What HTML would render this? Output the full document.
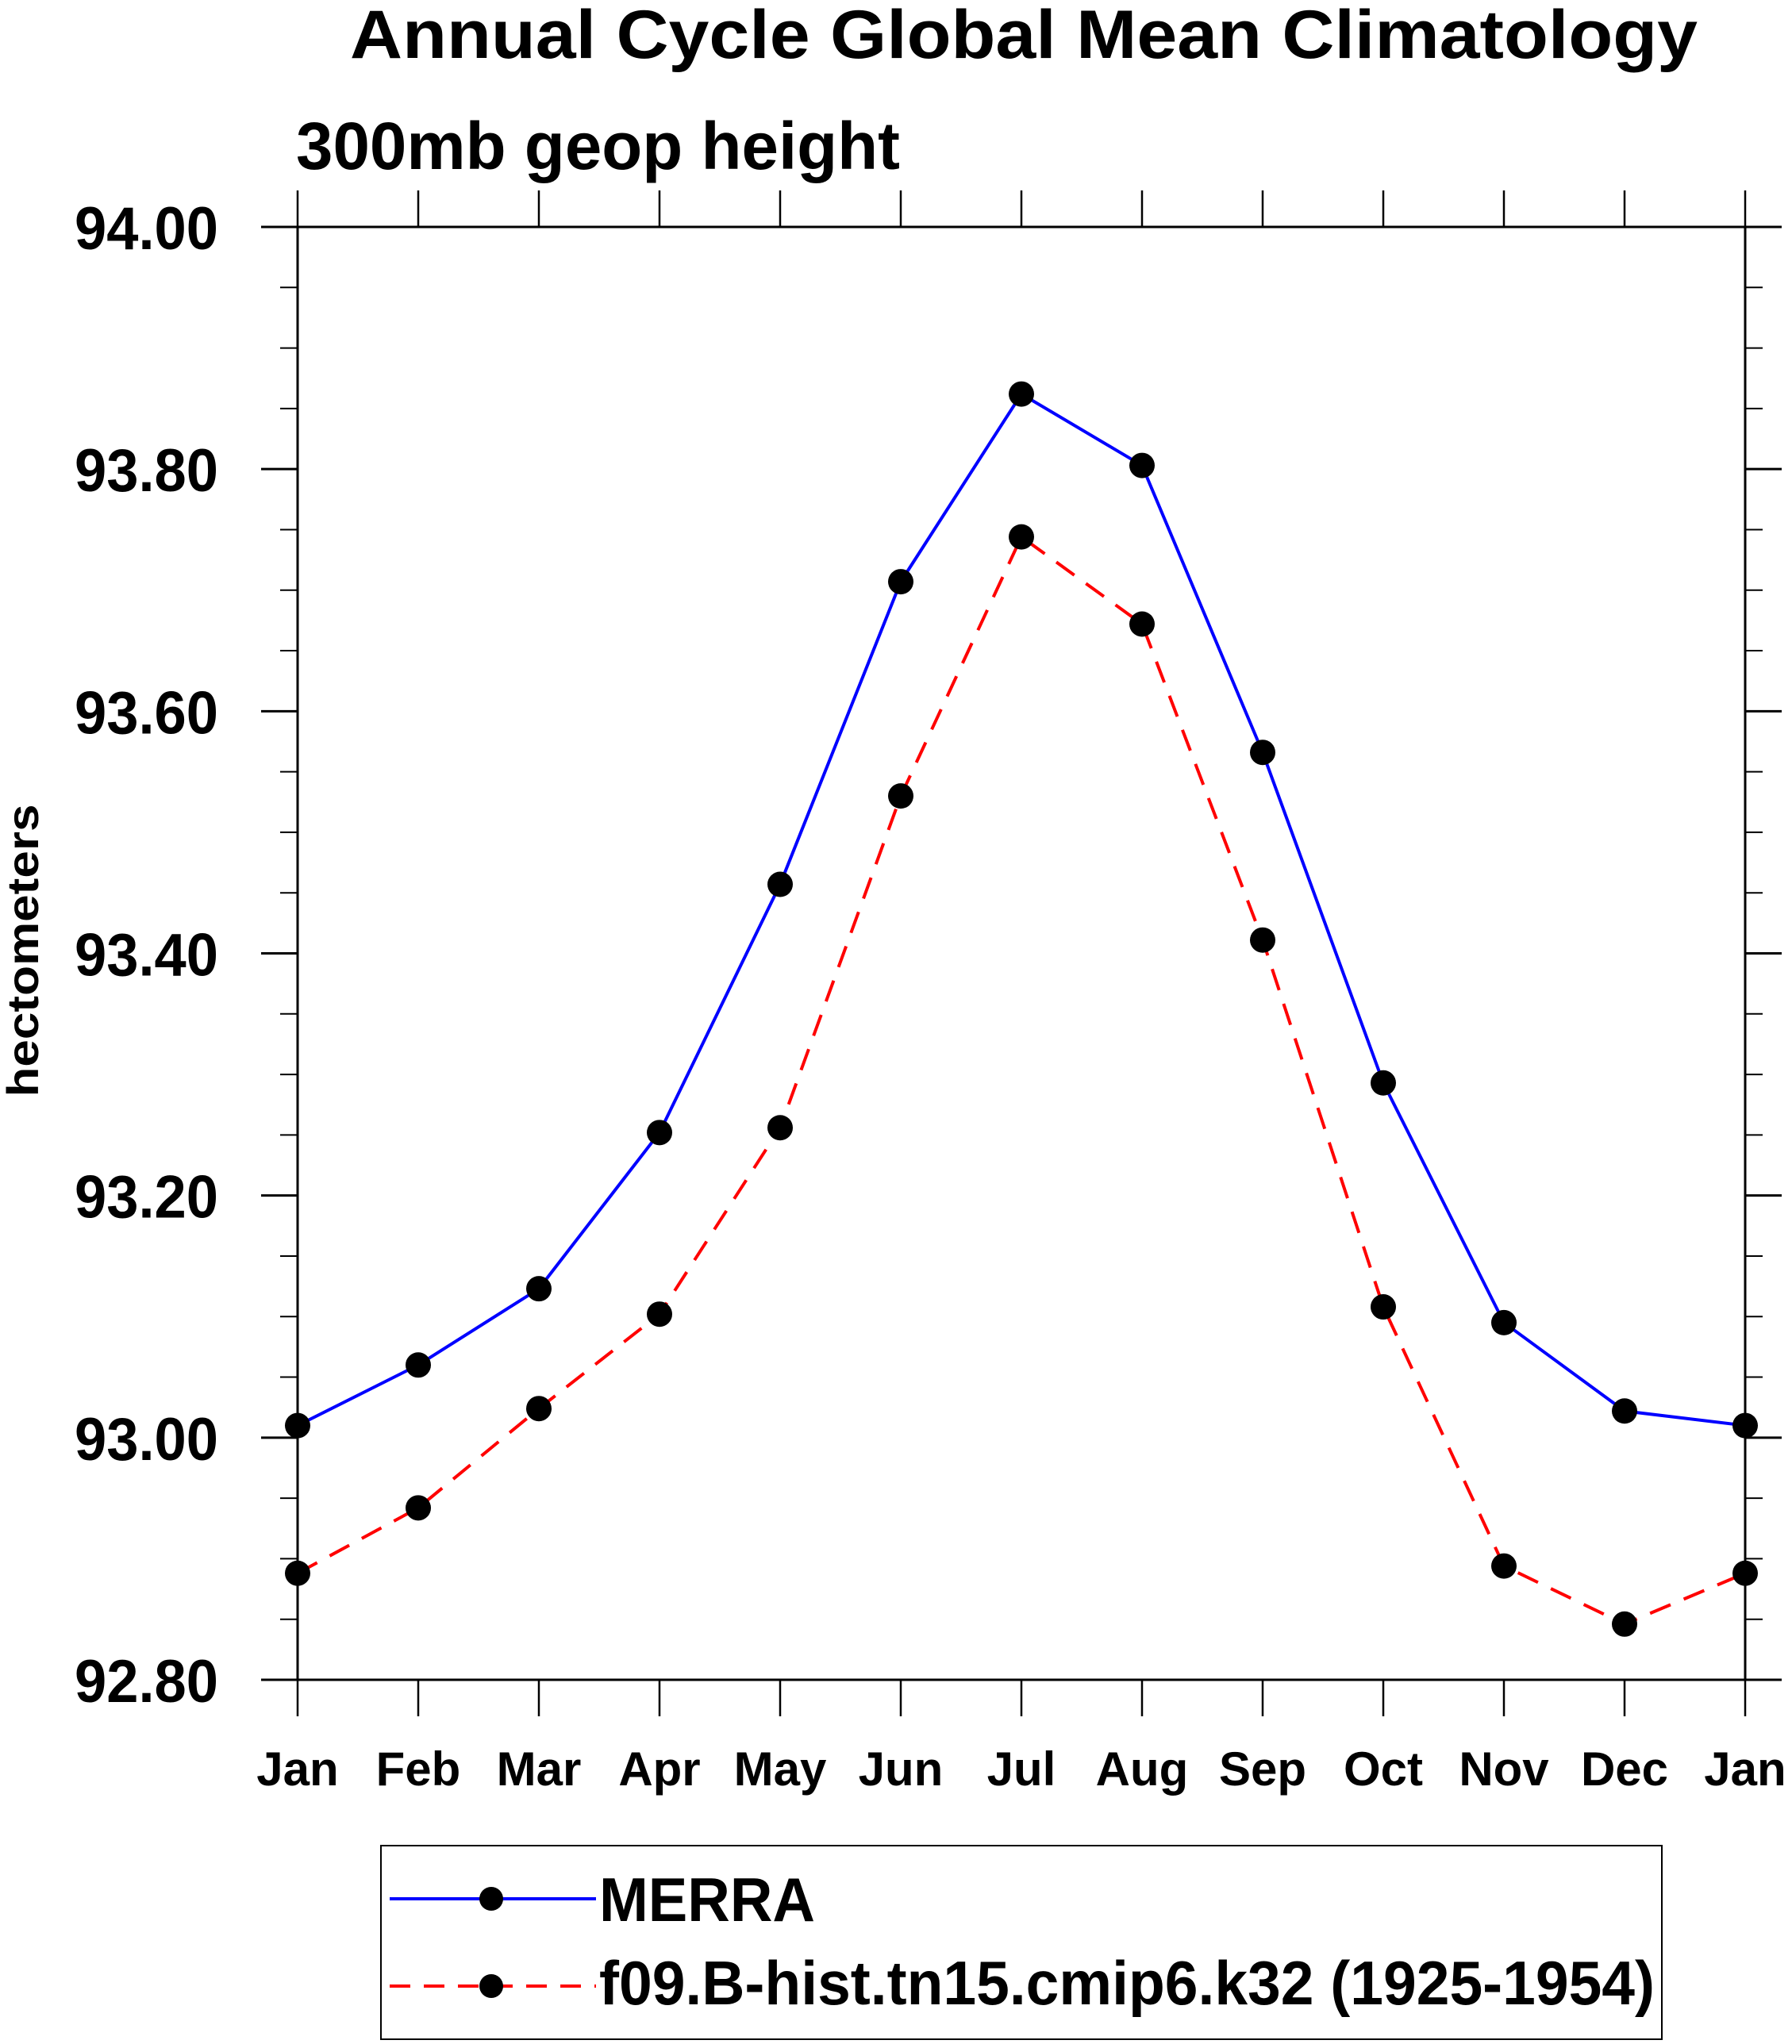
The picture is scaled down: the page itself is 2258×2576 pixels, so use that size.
<!DOCTYPE html>
<html><head><meta charset="utf-8"><style>html,body{margin:0;padding:0;background:#fff}svg{display:block}</style></head>
<body>
<svg id="chart" width="2258" height="2576" viewBox="0 0 2258 2576" xmlns="http://www.w3.org/2000/svg" font-family="'Liberation Sans', Arial, sans-serif" font-weight="bold">
<text x="1290" y="73" font-size="86" text-anchor="middle" textLength="1698" lengthAdjust="spacingAndGlyphs">Annual Cycle Global Mean Climatology</text>
<text x="373" y="213" font-size="84" textLength="761" lengthAdjust="spacingAndGlyphs">300mb geop height</text>
<text transform="translate(48,1198) rotate(-90)" font-size="56" text-anchor="middle" textLength="369" lengthAdjust="spacingAndGlyphs">hectometers</text>
<g id="axes"></g>
<g id="series"></g>
<g>
<rect x="480" y="2326" width="1614" height="244" fill="none" stroke="#000" stroke-width="2"/>
<g>
<line x1="491" y1="2393" x2="751" y2="2393" stroke="#0000ff" stroke-width="4"/>
<circle cx="619" cy="2393" r="15" fill="#000"/>
<text x="755" y="2421" font-size="78" textLength="272" lengthAdjust="spacingAndGlyphs">MERRA</text>
</g>
<g>
<line x1="491" y1="2503" x2="751" y2="2503" stroke="#ff0000" stroke-width="4" stroke-dasharray="26,17"/>
<circle cx="619" cy="2503" r="15" fill="#000"/>
<text x="755" y="2526" font-size="78" textLength="1330" lengthAdjust="spacingAndGlyphs">f09.B-hist.tn15.cmip6.k32 (1925-1954)</text>
</g>
</g>
</svg>
<script>
const months = ["Jan","Feb","Mar","Apr","May","Jun","Jul","Aug","Sep","Oct","Nov","Dec","Jan"];
const merra = [93.010,93.060,93.123,93.252,93.457,93.707,93.862,93.803,93.566,93.293,93.095,93.022,93.010];
const model = [92.888,92.942,93.024,93.102,93.256,93.530,93.744,93.672,93.411,93.108,92.894,92.846,92.888];
const yTicks = ["92.80","93.00","93.20","93.40","93.60","93.80","94.00"];
const yMin = 92.8, yMax = 94.0;
const L=375, R=2199, T=286, B=2117;
const NS="http://www.w3.org/2000/svg";
function xs(i){return L + i*(R-L)/(months.length-1);}
function ys(v){return B - (v-yMin)/(yMax-yMin)*(B-T);}
function mk(tag, attrs, parent){const e=document.createElementNS(NS,tag);for(const k in attrs)e.setAttribute(k,attrs[k]);parent.appendChild(e);return e;}
const ax=document.getElementById('axes');
const frame=mk('rect',{x:L,y:T,width:R-L,height:B-T,fill:'none',stroke:'#000','stroke-width':3},ax);


months.forEach((m,i)=>{
  const x=xs(i);
  mk('line',{x1:x,y1:T,x2:x,y2:T-46,stroke:'#000','stroke-width':2.5},ax);
  mk('line',{x1:x,y1:B,x2:x,y2:B+46,stroke:'#000','stroke-width':2.5},ax);
  const t=mk('text',{x:x,y:2250,'font-size':60,'text-anchor':'middle'},ax);
  t.textContent=m;
  
  
});
for(let v=yMin; v<=yMax+1e-9; v+=0.05){
  const y=ys(v);
  const major=Math.abs(Math.round(v*5)-v*5)<1e-6;
  const len=major?46:22;
  mk('line',{x1:L,y1:y,x2:L-len,y2:y,stroke:'#000','stroke-width':major?3:2},ax);
  mk('line',{x1:R,y1:y,x2:R+len,y2:y,stroke:'#000','stroke-width':major?3:2},ax);
}
yTicks.forEach(s=>{
  const y=ys(parseFloat(s));
  const t=mk('text',{x:275,y:y+28,'font-size':76,'text-anchor':'end',textLength:181,lengthAdjust:'spacingAndGlyphs'},ax);
  t.textContent=s;
  
  
});
const sg=document.getElementById('series');
function drawSeries(vals,color,dash,name){
  const g=mk('g',{},sg);
  
  
  const pts=vals.map((v,i)=>xs(i)+','+ys(v)).join(' ');
  const a={points:pts,fill:'none',stroke:color,'stroke-width':4};
  if(dash)a['stroke-dasharray']=dash;
  mk('polyline',a,g);
  vals.forEach((v,i)=>{
    const c=mk('circle',{cx:xs(i),cy:ys(v),r:16,fill:'#000'},g);
    
    
  });
}
drawSeries(merra,'#0000ff',null,'merra-series');
drawSeries(model,'#ff0000','28,18','model-series');
</script>
</body></html>
